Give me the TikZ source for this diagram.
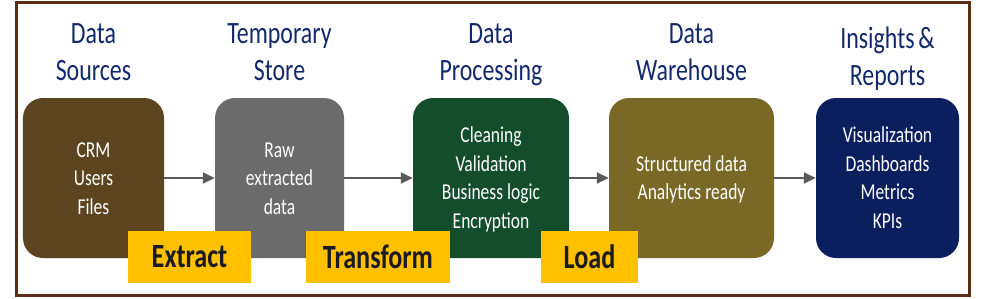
\documentclass[tikz,border=0pt]{standalone}
\usepackage{fontspec}
\setmainfont{Carlito}[FakeStretch=0.77]
\usetikzlibrary{arrows.meta}
\definecolor{framebrown}{HTML}{5B2C15}
\definecolor{titleblue}{HTML}{12296B}
\definecolor{srcbrown}{HTML}{5C4420}
\definecolor{tmpgray}{HTML}{6B6B6B}
\definecolor{procgreen}{HTML}{134D2B}
\definecolor{whgold}{HTML}{7A6827}
\definecolor{repnavy}{HTML}{0B1F5E}
\definecolor{labelyellow}{HTML}{FFC000}
\definecolor{labeltext}{HTML}{1A1A24}
\definecolor{arrowgray}{HTML}{5A5A5A}
\newcommand{\topstrut}{\rule{0pt}{20.4pt}}
\begin{document}
\begin{tikzpicture}[x=0.3mm,y=-0.3mm,
  stage/.style={rounded corners=6mm, minimum height=48mm, text=white, align=center, inner sep=0pt,
    font=\fontsize{19.4}{24.3}\selectfont},
  stagetitle/.style={text=titleblue, font=\fontsize{26.5}{32.4}\selectfont, text width=55mm, align=center, anchor=base, inner sep=0pt},
  phase/.style={fill=labelyellow, minimum height=15.6mm, text=labeltext, inner sep=0pt,
    font=\bfseries\fontsize{29}{30}\selectfont},
  flow/.style={draw=arrowgray, line width=0.6mm, -{Triangle[length=3.6mm,width=3.3mm]}}
]
\useasboundingbox (0,0) rectangle (1000,298);
\draw[framebrown, line width=0.9mm] (16,2.5) rectangle (969,295);

% titles
\node[stagetitle] (t1) at (93.5,43) {Data\\Sources};
\node[stagetitle] (t2) at (279.5,43) {Temporary\\Store};
\node[stagetitle] (t3) at (491,43) {Data\\Processing};
\node[stagetitle] (t4) at (691.5,43) {Data\\Warehouse};
\node[stagetitle] (t5) at (887.5,48) {Insights\hspace{0.12em}\&\\Reports};

% stages
\node[stage, fill=srcbrown, minimum width=42.3mm] (b1) at (93.5,178) {\topstrut CRM\\Users\\Files\strut};
\node[stage, fill=tmpgray, minimum width=38.7mm] (b2) at (279.5,178) {\topstrut Raw\\extracted\\data\strut};
\node[stage, fill=procgreen, minimum width=46.8mm] (b3) at (491,178) {\topstrut Cleaning\\Validation\\Business logic\\Encryption\strut};
\node[stage, fill=whgold, minimum width=49.5mm] (b4) at (691.5,178) {\topstrut Structured data\\Analytics ready\strut};
\node[stage, fill=repnavy, minimum width=42.9mm] (b5) at (887.5,178) {\topstrut Visualization\\Dashboards\\Metrics\\KPIs\strut};

% arrows
\draw[flow] (b1.east) -- (b2.west);
\draw[flow] (b2.east) -- (b3.west);
\draw[flow] (b3.east) -- (b4.west);
\draw[flow] (b4.east) -- (b5.west);

% phase labels
\node[phase, minimum width=36.9mm] (p1) at (189.5,257) {Extract};
\node[phase, minimum width=43.2mm] (p2) at (378,257) {Transform};
\node[phase, minimum width=29.1mm] (p3) at (589.5,257) {Load};
\end{tikzpicture}
\end{document}
